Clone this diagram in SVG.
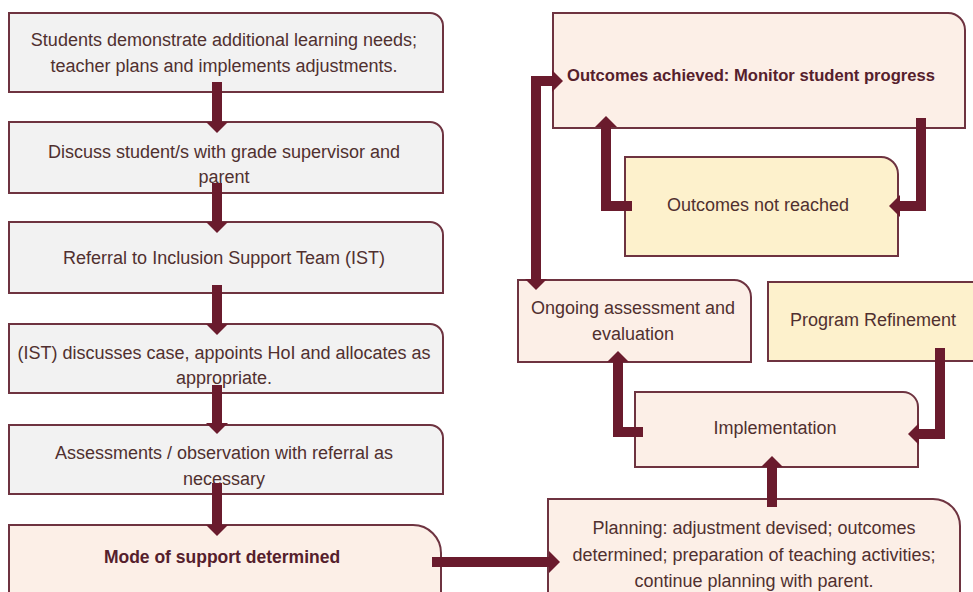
<svg xmlns="http://www.w3.org/2000/svg" width="973" height="592" viewBox="0 0 973 592">
<style>
.box{stroke:#6e3340;stroke-width:2}
.gray{fill:#f2f2f2}
.peach{fill:#fcefe7}
.yellow{fill:#fdf1cc}
text{font-family:"Liberation Sans",Arial,sans-serif;font-size:18px;fill:#50302f;text-anchor:middle}
text.b{font-weight:bold;fill:#55202c}
.conn path{fill:none;stroke:#6a1b2d;stroke-width:10;stroke-linejoin:miter;stroke-linecap:butt}
</style>
<defs>
<marker id="ah" viewBox="0 0 11 22" markerWidth="11" markerHeight="22" refX="0" refY="11" orient="auto-start-reverse" markerUnits="userSpaceOnUse">
<path d="M0,0 L11,11 L0,22 Z" fill="#6a1b2d"/>
</marker>
</defs>
<rect width="973" height="592" fill="#ffffff"/>

<g id="n1"><path class="box gray" d="M9,13 H430 A13,13 0 0 1 443,26 V92 H9 Z"/>
<text x="224" y="46">Students demonstrate additional learning needs;</text>
<text x="224" y="72">teacher plans and implements adjustments.</text></g>

<g id="n2"><path class="box gray" d="M9,122 H430 A13,13 0 0 1 443,135 V193 H9 Z"/>
<text x="224" y="158">Discuss student/s with grade supervisor and</text>
<text x="224" y="183">parent</text></g>

<g id="n3"><path class="box gray" d="M9,222 H430 A13,13 0 0 1 443,235 V293 H9 Z"/>
<text x="224" y="264">Referral to Inclusion Support Team (IST)</text></g>

<g id="n4"><path class="box gray" d="M9,324 H430 A13,13 0 0 1 443,337 V393 H9 Z"/>
<text x="224" y="359">(IST) discusses case, appoints HoI and allocates as</text>
<text x="224" y="384">appropriate.</text></g>

<g id="n5"><path class="box gray" d="M9,425 H430 A13,13 0 0 1 443,438 V494 H9 Z"/>
<text x="224" y="459">Assessments / observation with referral as</text>
<text x="224" y="485">necessary</text></g>

<g id="n6"><path class="box peach" d="M9,525 H413 A28,28 0 0 1 441,553 V600 H9 Z"/>
<text class="b" x="222" y="563" style="font-size:17.5px">Mode of support determined</text></g>

<g id="n7"><path class="box peach" d="M553,13 H948 A17,17 0 0 1 965,30 V128 H553 Z"/>
<text class="b" x="751" y="81" style="font-size:16.6px">Outcomes achieved: Monitor student progress</text></g>

<g id="n8"><path class="box yellow" d="M625,157 H881 A17,17 0 0 1 898,174 V256 H625 Z"/>
<text x="758" y="211">Outcomes not reached</text></g>

<g id="n9"><path class="box peach" d="M518,280 H734 A17,17 0 0 1 751,297 V362 H518 Z"/>
<text x="633" y="314">Ongoing assessment and</text>
<text x="633" y="340">evaluation</text></g>

<g id="n10"><path class="box yellow" d="M768,282 H990 V361 H768 Z"/>
<text x="873" y="326">Program Refinement</text></g>

<g id="n11"><path class="box peach" d="M635,392 H903 A15,15 0 0 1 918,407 V467 H635 Z"/>
<text x="775" y="434">Implementation</text></g>

<g id="n12"><path class="box peach" d="M548,499 H933 A27,27 0 0 1 960,526 V600 H548 Z"/>
<text x="754" y="534">Planning: adjustment devised; outcomes</text>
<text x="754" y="561">determined; preparation of teaching activities;</text>
<text x="754" y="587">continue planning with parent.</text></g>

<g id="connectors" class="conn">
<path d="M217,82 V122" marker-end="url(#ah)"/>
<path d="M217,183 V222" marker-end="url(#ah)"/>
<path d="M217,285 V324" marker-end="url(#ah)"/>
<path d="M217,385 V423" marker-end="url(#ah)"/>
<path d="M217,483 V525" marker-end="url(#ah)"/>
<path d="M432,562 H549" marker-end="url(#ah)"/>
<path d="M772,507 V467" marker-end="url(#ah)"/>
<path d="M643,432 H618 V362" marker-end="url(#ah)"/>
<path d="M940,348 V434 H919" marker-end="url(#ah)"/>
<path d="M536,279 V81 H552" marker-start="url(#ah)" marker-end="url(#ah)"/>
<path d="M632,206 H606 V127" marker-end="url(#ah)"/>
<path d="M921,118 V206 H900" marker-end="url(#ah)"/>
</g>
</svg>
